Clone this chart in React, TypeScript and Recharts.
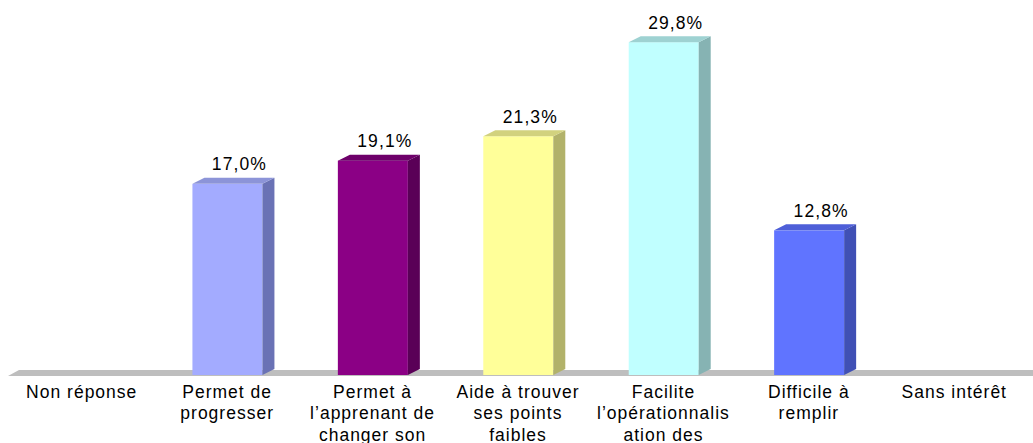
import React from 'react';
import { BarChart, Bar, XAxis, YAxis, LabelList, ReferenceArea } from 'recharts';

const categories = [
  'Non réponse',
  'Permet de progresser',
  'Permet à l’apprenant de changer son',
  'Aide à trouver ses points faibles',
  'Facilite l’opérationnalisation des',
  'Difficile à remplir',
  'Sans intérêt',
];
const tickLines: string[][] = [
  ['Non réponse'],
  ['Permet de', 'progresser'],
  ['Permet à', 'l’apprenant de', 'changer son'],
  ['Aide à trouver', 'ses points', 'faibles'],
  ['Facilite', 'l’opérationnalis', 'ation des'],
  ['Difficile à', 'remplir'],
  ['Sans intérêt'],
];
const values = [0, 17.0, 19.1, 21.3, 29.8, 12.8, 0];
const frontColors = ['#A3ABFF', '#A3ABFF', '#8B0085', '#FFFF99', '#C0FFFF', '#6074FF', '#A3ABFF'];
const sideColors = ['#6A72B5', '#6A72B5', '#5A0057', '#B2B26A', '#86B3B3', '#4050B5', '#6A72B5'];
const topColors = ['#8C94D8', '#8C94D8', '#6E006A', '#D2D27E', '#9ED2D2', '#4E5FD8', '#8C94D8'];

const data = categories.map((c, i) => ({ name: c, value: values[i], idx: i }));

const FONT = '"Liberation Sans", Arial, sans-serif';
const DX = 12;
const DY = 6;

const Bar3D = (props: any) => {
  const { x, y, width, height, payload } = props;
  const i = payload.idx;
  if (!payload.value) return null;
  const bottom = y + height + 3;
  return (
    <g>
      <rect x={x} y={y} width={width} height={bottom - y} fill={frontColors[i]} />
      <polygon
        points={`${x + width},${y} ${x + width + DX},${y - DY} ${x + width + DX},${bottom - DY} ${x + width},${bottom}`}
        fill={sideColors[i]}
      />
      <polygon
        points={`${x},${y} ${x + DX},${y - DY} ${x + width + DX},${y - DY} ${x + width},${y}`}
        fill={topColors[i]}
      />
    </g>
  );
};

const ValueLabel = (props: any) => {
  const { x, y, width, value } = props;
  if (!value) return null;
  return (
    <text
      x={x + width / 2 + 12}
      y={y - 13.5}
      textAnchor="middle"
      fontFamily={FONT}
      fontSize={17.5}
      letterSpacing={1.1}
      fill="#000"
    >
      {value.toFixed(1).replace('.', ',') + '%'}
    </text>
  );
};

const Tick = (props: any) => {
  const { x, y, payload } = props;
  const lines = tickLines[payload.index] || [];
  return (
    <g transform={`translate(${x},${y})`}>
      <text textAnchor="middle" fontFamily={FONT} fontSize={17.5} letterSpacing={1.0} fill="#000">
        {lines.map((l, k) => (
          <tspan key={k} x={0} y={25.5 + k * 21.5}>
            {l}
          </tspan>
        ))}
      </text>
    </g>
  );
};

const Floor = (props: any) => {
  const { x, y, width, height } = props;
  return (
    <polygon
      points={`${x - 1},${y + height} ${x + 10},${y} ${x + width + 8},${y} ${x + width + 8},${y + height}`}
      fill="#BEBEBE"
    />
  );
};

export default function App() {
  return (
    <div style={{ position: 'absolute', left: 0, top: 0, width: 1033, height: 443, background: '#fff' }}>
      <BarChart
        width={1033}
        height={443}
        data={data}
        margin={{ top: 40, right: 6, bottom: 0, left: 9 }}
        barCategoryGap={0}
      >
        <YAxis hide domain={[0, 30]} />
        <XAxis
          dataKey="name"
          axisLine={false}
          tickLine={false}
          tickSize={0}
          tickMargin={0}
          height={71}
          interval={0}
          tick={<Tick />}
        />
        <ReferenceArea y1={-0.36} y2={0.18} ifOverflow="visible" shape={<Floor />} />
        <Bar dataKey="value" barSize={70} isAnimationActive={false} shape={<Bar3D />}>
          <LabelList dataKey="value" content={<ValueLabel />} />
        </Bar>
      </BarChart>
    </div>
  );
}
